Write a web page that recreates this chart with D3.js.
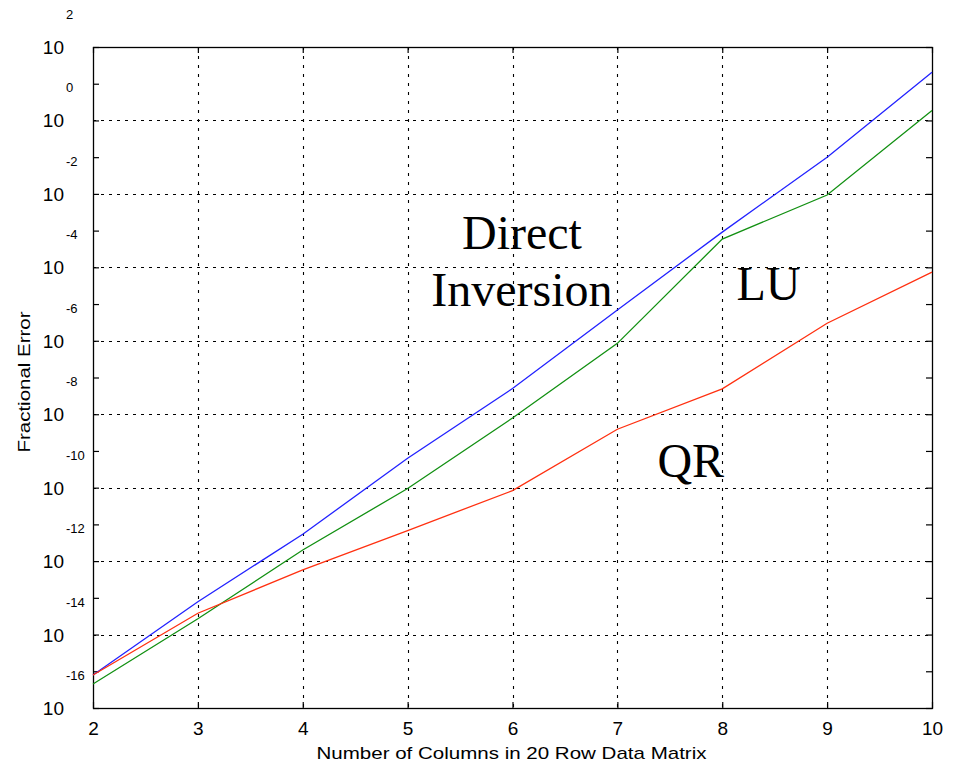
<!DOCTYPE html>
<html>
<head>
<meta charset="utf-8">
<script src="https://cdn.jsdelivr.net/npm/d3@7"></script>
<style>
  body { margin: 0; background: #fff; }
  svg { display: block; }
</style>
</head>
<body>
<svg width="955" height="763"></svg>
<script>
// columns in the 20 row data matrix
var columns = [2, 3, 4, 5, 6, 7, 8, 9, 10];
// fractional error
var directInv = [7.9e-16, 7.8e-14, 5.4e-12, 6.3e-10, 5.0e-8, 6.9e-6, 9.1e-4, 1.0e-1, 20.4];
var luErr     = [4.5e-16, 2.7e-14, 2.0e-12, 9.5e-11, 7.9e-9, 8.5e-7, 5.9e-4, 9.3e-3, 1.86];
var qrErr     = [7.9e-16, 3.8e-14, 5.8e-13, 6.8e-12, 8.3e-11, 3.9e-9, 4.9e-8, 3.0e-6, 7.4e-5];
// y tick exponents (labelled every 2 decades, small ticks between)
var majorExp = [2, 0, -2, -4, -6, -8, -10, -12, -14, -16];
var minorExp = [1, -1, -3, -5, -7, -9, -11, -13, -15];

var series = [
  {name: "Direct Inversion", values: directInv, color: "#2222ff"},
  {name: "LU", values: luErr, color: "#129012"},
  {name: "QR", values: qrErr, color: "#ff3010"}
];
// text labels placed in data coordinates (baseline of first line)
var notes = [
  {lines: ["Direct", "Inversion"], x: 6.09, y: 3.2e-4},
  {lines: ["LU"], x: 8.44, y: 1.3e-5},
  {lines: ["QR"], x: 7.70, y: 2.0e-10}
];

(function() {
  var svg = d3.select("svg");
  var pLeft = 93, pRight = 932, pTop = 47, pBottom = 708;

  var x = d3.scaleLinear().domain([2, 10]).range([pLeft, pRight]);
  var y = d3.scaleLog().domain([1e-16, 1e2]).range([pBottom, pTop]);

  // grid
  var grid = svg.append("g").attr("stroke", "#000").attr("stroke-width", 1.1).attr("fill", "none");
  grid.selectAll(".gx").data(columns.slice(1, -1)).enter().append("line")
    .attr("x1", function(d) { return Math.round(x(d)) + 0.5; })
    .attr("x2", function(d) { return Math.round(x(d)) + 0.5; })
    .attr("y1", pTop).attr("y2", pBottom)
    .attr("stroke-dasharray", "3,6");
  grid.selectAll(".gy").data(majorExp).enter().append("line")
    .attr("y1", function(d) { return Math.round(y(Math.pow(10, d))) + 0.5; })
    .attr("y2", function(d) { return Math.round(y(Math.pow(10, d))) + 0.5; })
    .attr("x1", pLeft).attr("x2", pRight)
    .attr("stroke-dasharray", "3,5");

  // axes, ticks pointing inward
  var tickLen = 6;
  var axisB = d3.axisBottom(x).tickValues(columns).tickSize(-tickLen).tickPadding(14);
  var axisT = d3.axisTop(x).tickValues(columns).tickSize(-tickLen).tickFormat("");
  var allY = majorExp.concat(minorExp).map(function(e) { return Math.pow(10, e); });
  var axisL = d3.axisLeft(y).tickValues(allY).tickSize(-tickLen).tickFormat("");
  var axisR = d3.axisRight(y).tickValues(allY).tickSize(-tickLen).tickFormat("");

  function styleAxis(g) {
    g.attr("font-family", "'Liberation Sans', Arial, sans-serif").attr("font-size", 19);
    g.select(".domain").remove();
    g.selectAll(".tick line").attr("stroke", "#000").attr("stroke-width", 1.2);
    g.selectAll("text").attr("fill", "#000");
  }
  svg.append("g").attr("transform", "translate(0," + pBottom + ")").call(axisB).call(styleAxis);
  svg.append("g").attr("transform", "translate(0," + pTop + ")").call(axisT).call(styleAxis);
  svg.append("g").attr("transform", "translate(" + pLeft + ",0)").call(axisL).call(styleAxis);
  svg.append("g").attr("transform", "translate(" + pRight + ",0)").call(axisR).call(styleAxis);

  // box
  svg.append("rect")
    .attr("x", pLeft + 0.5).attr("y", pTop + 0.5)
    .attr("width", pRight - pLeft).attr("height", pBottom - pTop)
    .attr("fill", "none").attr("stroke", "#000").attr("stroke-width", 1.3);

  // y labels: "10" at the tick with its exponent above it
  var ylab = svg.append("g").attr("font-family", "'Liberation Sans', Arial, sans-serif").attr("fill", "#000");
  ylab.selectAll(".ten").data(majorExp).enter().append("text")
    .attr("x", 64)
    .attr("y", function(d) { return y(Math.pow(10, d)) + 7; })
    .attr("text-anchor", "end")
    .attr("font-size", 19)
    .text("10");
  ylab.selectAll(".exp").data(majorExp).enter().append("text")
    .attr("x", 66)
    .attr("y", function(d) { return y(Math.pow(10, d)) - 28; })
    .attr("font-size", 13)
    .text(function(d) { return d; });

  // series lines
  var line = d3.line()
    .x(function(d) { return x(d[0]); })
    .y(function(d) { return y(d[1]); });
  svg.selectAll(".series").data(series).enter().append("path")
    .attr("fill", "none")
    .attr("stroke", function(d) { return d.color; })
    .attr("stroke-width", 1.3)
    .attr("d", function(d) { return line(d3.zip(columns, d.values)); });

  // annotations
  var ann = svg.selectAll(".note").data(notes).enter().append("text")
    .attr("text-anchor", "middle")
    .attr("fill", "#000")
    .attr("font-family", "'Liberation Serif', 'Times New Roman', serif")
    .attr("font-size", 48)
    .attr("y", function(d) { return y(d.y); });
  ann.selectAll("tspan").data(function(d) { return d.lines.map(function(t) { return {t: t, x: x(d.x)}; }); })
    .enter().append("tspan")
    .attr("x", function(d) { return d.x; })
    .attr("dy", function(d, i) { return i ? 57 : 0; })
    .text(function(d) { return d.t; });

  // axis titles
  svg.append("text")
    .attr("x", (pLeft + pRight) / 2 - 1).attr("y", 759)
    .attr("text-anchor", "middle")
    .attr("font-family", "'Liberation Sans', Arial, sans-serif").attr("font-size", 17)
    .attr("textLength", 390).attr("lengthAdjust", "spacingAndGlyphs")
    .text("Number of Columns in 20 Row Data Matrix");
  svg.append("text")
    .attr("transform", "translate(30,382) rotate(-90)")
    .attr("text-anchor", "middle")
    .attr("font-family", "'Liberation Sans', Arial, sans-serif").attr("font-size", 17)
    .attr("textLength", 141).attr("lengthAdjust", "spacingAndGlyphs")
    .text("Fractional Error");
})();
</script>
</body>
</html>
